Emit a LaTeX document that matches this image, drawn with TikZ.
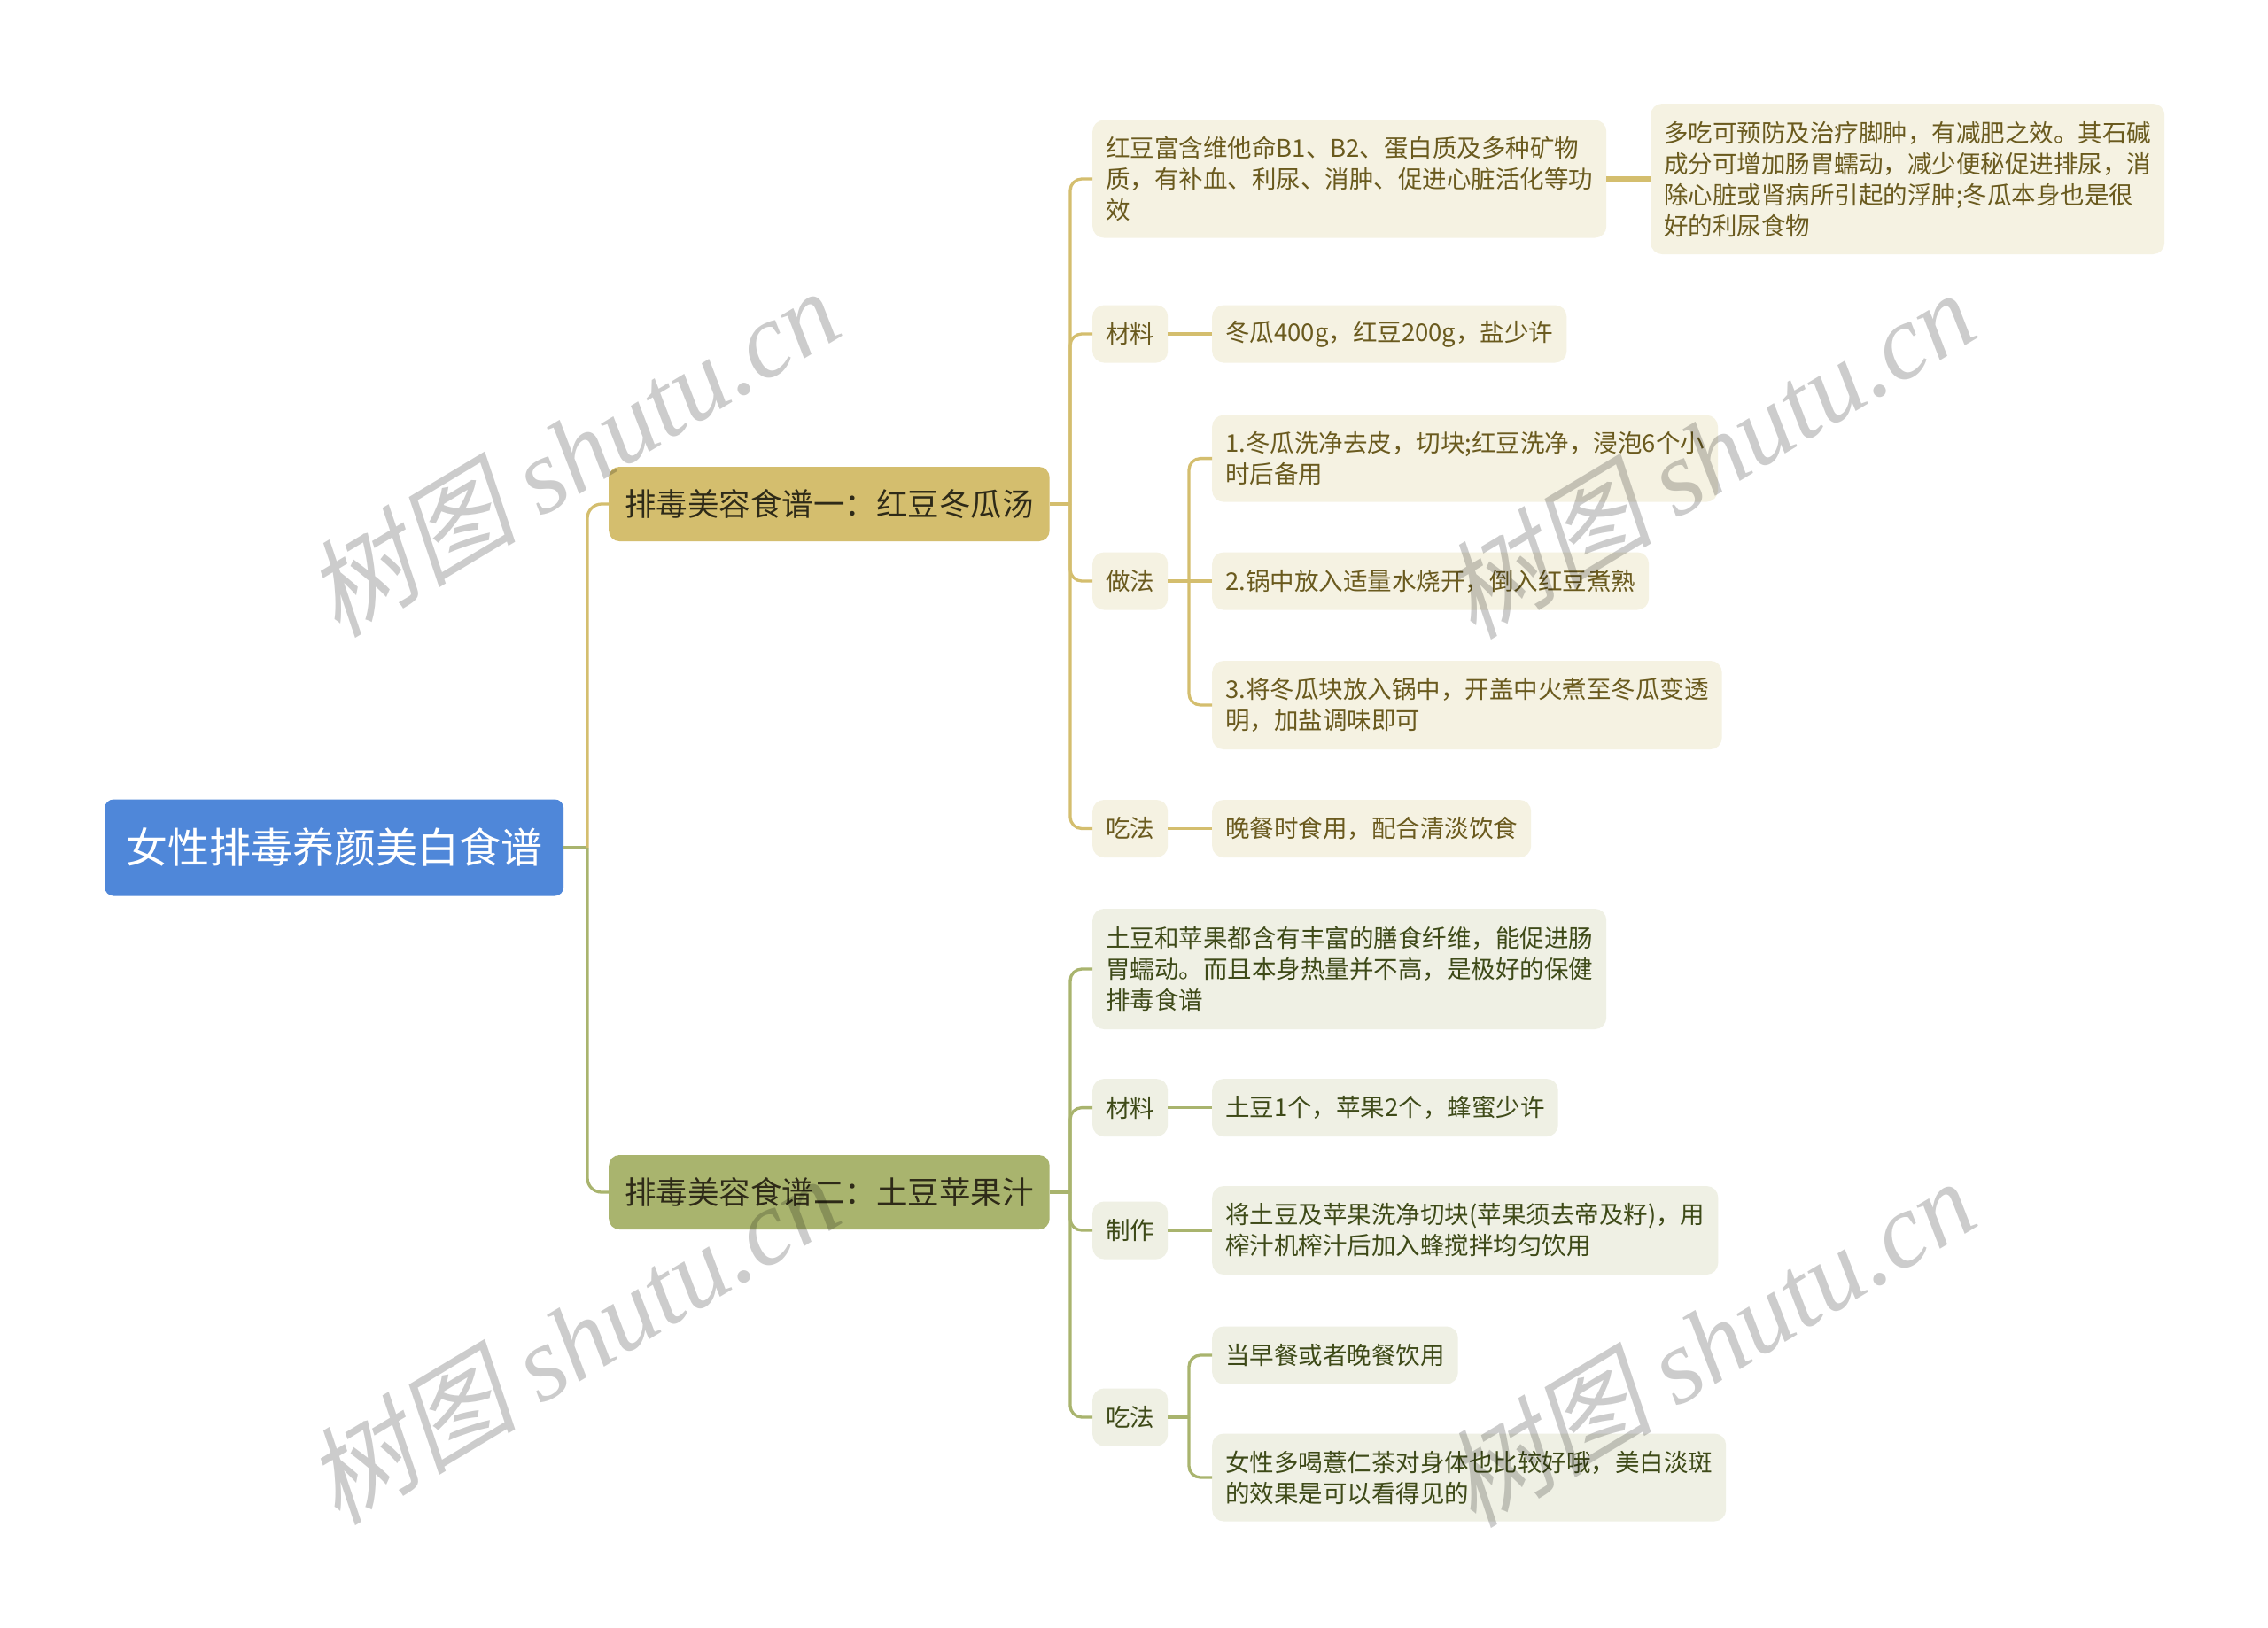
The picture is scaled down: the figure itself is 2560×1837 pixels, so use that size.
\documentclass[tikz,border=0pt]{standalone}
\usepackage{fontspec}
\newfontfamily\cjk{Noto Sans CJK SC}
\newfontfamily\wmlatin{Liberation Serif}
\newfontfamily\wmcjk[FakeSlant=0.22]{Noto Sans CJK SC}
\definecolor{rootblue}{HTML}{4F87D9}
\definecolor{goldA}{HTML}{D4BE6E}
\definecolor{oliveB}{HTML}{A9B46E}
\definecolor{creamA}{HTML}{F5F2E2}
\definecolor{creamB}{HTML}{EFF0E4}
\definecolor{textA}{HTML}{6A5A1E}
\definecolor{textB}{HTML}{3E4A18}
\definecolor{branchtext}{HTML}{2E2A18}
\tikzset{
  rootbox/.style={rectangle, fill=rootblue, text=white, rounded corners=10pt,
    font={\cjk\fontsize{47}{56}\selectfont}, inner xsep=24pt, inner ysep=0pt,
    minimum height=109pt, anchor=west},
  bbox/.style={rectangle, fill=#1, text=branchtext, rounded corners=12pt,
    font={\cjk\fontsize{35.5}{42}\selectfont}, inner xsep=18pt, inner ysep=0pt,
    minimum height=84pt, anchor=west},
  leafA/.style={rectangle, fill=creamA, text=textA, rounded corners=13pt,
    font={\cjk\fontsize{27.5}{35}\selectfont}, inner xsep=15pt, inner ysep=0pt,
    align=left, anchor=west, minimum height=#1},
  leafA/.default=65pt,
  leafB/.style={rectangle, fill=creamB, text=textB, rounded corners=13pt,
    font={\cjk\fontsize{27.5}{35}\selectfont}, inner xsep=15pt, inner ysep=0pt,
    align=left, anchor=west, minimum height=#1},
  leafB/.default=65pt,
  lineA/.style={draw=goldA, line width=3.3pt},
  lineB/.style={draw=oliveB, line width=3.3pt},
  wm/.style={text=black, opacity=0.2, rotate=31, inner sep=0pt}
}
\begin{document}
\begin{tikzpicture}[x=1pt, y=-1pt]
\useasboundingbox (0,0) rectangle (2560,1837);
\fill[white] (0,0) rectangle (2560,1837);

% root and branches
\node[rootbox] (root) at (118,957) {女性排毒养颜美白食谱};
\node[bbox=goldA] (b1) at (687,569) {排毒美容食谱一：红豆冬瓜汤};
\node[bbox=oliveB] (b2) at (687,1346) {排毒美容食谱二：土豆苹果汁};

% branch 1 children
\node[leafA=133pt] (c1) at (1233,202) {红豆富含维他命B1、B2、蛋白质及多种矿物\\质，有补血、利尿、消肿、促进心脏活化等功\\效};
\node[leafA=170pt] (c1r) at (1863,202) {多吃可预防及治疗脚肿，有减肥之效。其石碱\\成分可增加肠胃蠕动，减少便秘促进排尿，消\\除心脏或肾病所引起的浮肿;冬瓜本身也是很\\好的利尿食物};
\node[leafA] (m1) at (1233,377) {材料};
\node[leafA] (m1r) at (1368,377) {冬瓜400g，红豆200g，盐少许};
\node[leafA] (z1) at (1233,656) {做法};
\node[leafA=98pt] (s1) at (1368,517.6) {1.冬瓜洗净去皮，切块;红豆洗净，浸泡6个小\\时后备用};
\node[leafA] (s2) at (1368,656) {2.锅中放入适量水烧开，倒入红豆煮熟};
\node[leafA=100pt] (s3) at (1368,796) {3.将冬瓜块放入锅中，开盖中火煮至冬瓜变透\\明，加盐调味即可};
\node[leafA] (e1) at (1233,935.5) {吃法};
\node[leafA] (e1r) at (1368,935.5) {晚餐时食用，配合清淡饮食};

% branch 2 children
\node[leafB=136pt] (d1) at (1233,1094) {土豆和苹果都含有丰富的膳食纤维，能促进肠\\胃蠕动。而且本身热量并不高，是极好的保健\\排毒食谱};
\node[leafB] (m2) at (1233,1250.6) {材料};
\node[leafB] (m2r) at (1368,1250.6) {土豆1个，苹果2个，蜂蜜少许};
\node[leafB] (p2) at (1233,1389) {制作};
\node[leafB=100pt] (p2r) at (1368,1389) {将土豆及苹果洗净切块(苹果须去帝及籽)，用\\榨汁机榨汁后加入蜂搅拌均匀饮用};
\node[leafB] (e2) at (1233,1600) {吃法};
\node[leafB] (t1) at (1368,1530) {当早餐或者晚餐饮用};
\node[leafB=99pt] (t2) at (1368,1668) {女性多喝薏仁茶对身体也比较好哦，美白淡斑\\的效果是可以看得见的};

% junctions
\coordinate (rj) at (663,957);
\coordinate (j1) at (1208,569);
\coordinate (k1) at (1342,656);
\coordinate (j2) at (1208,1346);
\coordinate (k2) at (1342,1600);

% connectors root
\draw[lineB] (root.east) -- (rj);
\draw[lineA, rounded corners=16pt] (rj) |- (b1.west);
\draw[lineB, rounded corners=16pt] (rj) |- (b2.west);

% connectors branch 1
\draw[lineA] (b1.east) -- (j1);
\draw[lineA, rounded corners=13pt] (j1) |- (c1.west);
\draw[lineA, rounded corners=13pt] (j1) |- (m1.west);
\draw[lineA, rounded corners=13pt] (j1) |- (z1.west);
\draw[lineA, rounded corners=13pt] (j1) |- (e1.west);
\draw[draw=goldA, line width=5.5pt] (c1.east) -- (c1r.west);
\draw[lineA] (m1.east) -- (m1r.west);
\draw[lineA] (z1.east) -- (k1);
\draw[lineA, rounded corners=13pt] (k1) |- (s1.west);
\draw[lineA] (k1) -- (s2.west);
\draw[lineA, rounded corners=13pt] (k1) |- (s3.west);
\draw[lineA] (e1.east) -- (e1r.west);

% connectors branch 2
\draw[lineB] (b2.east) -- (j2);
\draw[lineB, rounded corners=13pt] (j2) |- (d1.west);
\draw[lineB, rounded corners=13pt] (j2) |- (m2.west);
\draw[lineB, rounded corners=13pt] (j2) |- (p2.west);
\draw[lineB, rounded corners=13pt] (j2) |- (e2.west);
\draw[lineB] (m2.east) -- (m2r.west);
\draw[lineB] (p2.east) -- (p2r.west);
\draw[lineB] (e2.east) -- (k2);
\draw[lineB, rounded corners=13pt] (k2) |- (t1.west);
\draw[lineB, rounded corners=13pt] (k2) |- (t2.west);

% watermarks
\node[wm] (wm1) at (645,510) {\wmcjk\fontsize{120}{130}\selectfont 树图 \wmlatin\itshape shutu.cn};
\node[wm] (wm2) at (1927,512) {\wmcjk\fontsize{120}{130}\selectfont 树图 \wmlatin\itshape shutu.cn};
\node[wm] (wm3) at (645,1512) {\wmcjk\fontsize{120}{130}\selectfont 树图 \wmlatin\itshape shutu.cn};
\node[wm] (wm4) at (1927,1515) {\wmcjk\fontsize{120}{130}\selectfont 树图 \wmlatin\itshape shutu.cn};
\end{tikzpicture}
\end{document}
